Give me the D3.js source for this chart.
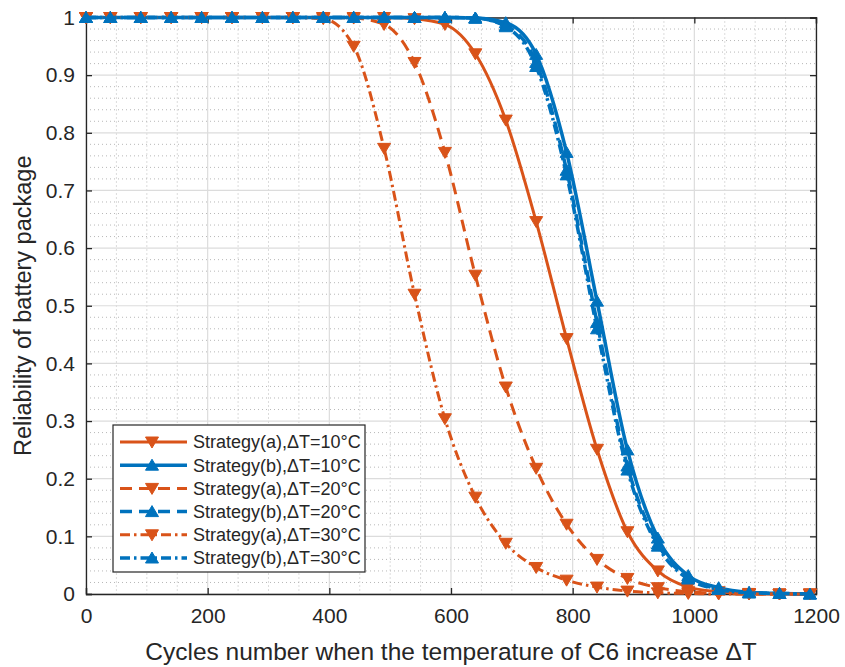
<!DOCTYPE html>
<html>
<head>
<meta charset="utf-8">
<script src="https://cdn.jsdelivr.net/npm/d3@7"></script>
<style>
  body { margin: 0; background: #fff; }
  svg { display: block; font-family: "Liberation Sans", Arial, sans-serif; }
</style>
</head>
<body>
<svg id="chart"></svg>
<script>
// data (marker positions)
const cycles = [0, 40, 90, 140, 190, 240, 290, 340, 390, 440, 490, 540, 590, 640, 690, 740, 790, 840, 890, 940, 990, 1040, 1090, 1140, 1190];

const relA10 = [1, 1, 1, 1, 1, 1, 1, 1, 1, 1, 1, 0.998, 0.988, 0.937, 0.822, 0.646, 0.443, 0.251, 0.108, 0.040, 0.012, 0.004, 0.001, 0, 0];
const relB10 = [1, 1, 1, 1, 1, 1, 1, 1, 1, 1, 1, 1, 1, 0.999, 0.991, 0.936, 0.766, 0.508, 0.250, 0.097, 0.032, 0.011, 0.003, 0.001, 0];
const relA20 = [1, 1, 1, 1, 1, 1, 1, 1, 1, 0.999, 0.988, 0.922, 0.766, 0.553, 0.359, 0.218, 0.121, 0.060, 0.027, 0.011, 0.004, 0.001, 0, 0, 0];
const relB20 = [1, 1, 1, 1, 1, 1, 1, 1, 1, 1, 1, 1, 1, 0.999, 0.986, 0.922, 0.735, 0.471, 0.222, 0.087, 0.028, 0.009, 0.002, 0.001, 0];
const relA30 = [1, 1, 1, 1, 1, 1, 1, 1, 0.998, 0.950, 0.773, 0.520, 0.304, 0.168, 0.088, 0.046, 0.024, 0.012, 0.005, 0.002, 0.001, 0, 0, 0, 0];
const relB30 = [1, 1, 1, 1, 1, 1, 1, 1, 1, 1, 1, 1, 1, 0.999, 0.984, 0.915, 0.727, 0.460, 0.215, 0.083, 0.026, 0.008, 0.002, 0.001, 0];

const seriesNames = [
  "Strategy(a),\u0394T=10\u00B0C",
  "Strategy(b),\u0394T=10\u00B0C",
  "Strategy(a),\u0394T=20\u00B0C",
  "Strategy(b),\u0394T=20\u00B0C",
  "Strategy(a),\u0394T=30\u00B0C",
  "Strategy(b),\u0394T=30\u00B0C"
];
const seriesValues = [relA10, relB10, relA20, relB20, relA30, relB30];

const xTicks = [0, 200, 400, 600, 800, 1000, 1200];
const yTicks = [0, 0.1, 0.2, 0.3, 0.4, 0.5, 0.6, 0.7, 0.8, 0.9, 1];
const xTitle = "Cycles number when the temperature of C6 increase \u0394T";
const yTitle = "Reliability of battery package";

// styles
const orange = "#D95319";
const blue = "#0072BD";
const styles = [
  { color: orange, dash: null, width: 3, marker: "down" },
  { color: blue, dash: null, width: 3.5, marker: "up" },
  { color: orange, dash: "12,7", width: 3, marker: "down" },
  { color: blue, dash: "12,7", width: 3.5, marker: "up" },
  { color: orange, dash: "10,4,2.5,4", width: 3, marker: "down" },
  { color: blue, dash: "10,4,2.5,4", width: 3.5, marker: "up" }
];

const W = 845, H = 667;
const pLeft = 86, pRight = 816, pTop = 17.5, pBottom = 594;

const svg = d3.select("#chart").attr("width", W).attr("height", H);

const x = d3.scaleLinear().domain([0, 1200]).range([pLeft, pRight]);
const y = d3.scaleLinear().domain([0, 1]).range([pBottom, pTop]);

// minor grid (dotted)
const minorX = d3.range(0, 1201, 50).filter(v => v % 200 !== 0);
const minorY = d3.range(0, 51).map(i => i / 50).filter((v, i) => i % 5 !== 0);

const grid = svg.append("g");
grid.selectAll(".mx").data(minorX).enter().append("line")
  .attr("x1", d => x(d)).attr("x2", d => x(d))
  .attr("y1", pTop).attr("y2", pBottom)
  .attr("stroke", "#b8b8b8").attr("stroke-width", 1)
  .attr("stroke-dasharray", "1,3");
grid.selectAll(".my").data(minorY).enter().append("line")
  .attr("x1", pLeft).attr("x2", pRight)
  .attr("y1", d => y(d)).attr("y2", d => y(d))
  .attr("stroke", "#b8b8b8").attr("stroke-width", 1)
  .attr("stroke-dasharray", "1,3");

// major grid
grid.selectAll(".gx").data(xTicks).enter().append("line")
  .attr("x1", d => x(d)).attr("x2", d => x(d))
  .attr("y1", pTop).attr("y2", pBottom)
  .attr("stroke", "#dcdcdc").attr("stroke-width", 1.2);
grid.selectAll(".gy").data(yTicks).enter().append("line")
  .attr("x1", pLeft).attr("x2", pRight)
  .attr("y1", d => y(d)).attr("y2", d => y(d))
  .attr("stroke", "#dcdcdc").attr("stroke-width", 1.2);

// axes
const axisColor = "#262626";
const xAxis = svg.append("g")
  .attr("transform", `translate(0,${pBottom})`)
  .call(d3.axisBottom(x).tickValues(xTicks).tickSize(-6).tickPadding(14).tickFormat(d3.format("d")));
const yAxis = svg.append("g")
  .attr("transform", `translate(${pLeft},0)`)
  .call(d3.axisLeft(y).tickValues(yTicks).tickSize(-6).tickPadding(11).tickFormat(d => d === 0 || d === 1 ? d3.format("d")(d) : d3.format(".1f")(d)));
const xTop = svg.append("g")
  .attr("transform", `translate(0,${pTop})`)
  .call(d3.axisTop(x).tickValues(xTicks).tickSize(-6).tickFormat(""));
const yRight = svg.append("g")
  .attr("transform", `translate(${pRight},0)`)
  .call(d3.axisRight(y).tickValues(yTicks).tickSize(-6).tickFormat(""));

[xAxis, yAxis, xTop, yRight].forEach(a => {
  a.select(".domain").attr("stroke", axisColor).attr("stroke-width", 1.3);
  a.selectAll(".tick line").attr("stroke", axisColor).attr("stroke-width", 1.3);
  a.selectAll(".tick text").attr("fill", axisColor).attr("font-size", 21)
    .attr("font-family", "'Liberation Sans', Arial, sans-serif");
});
xAxis.selectAll(".tick text").attr("dy", "0.71em");

// lines and markers
const line = d3.line()
  .x(d => x(d[0]))
  .y(d => y(d[1]))
  .curve(d3.curveMonotoneX);

const triDown = "M-6.5,-5L6.5,-5L0,6Z";
const triUp = "M-6.5,5L6.5,5L0,-6Z";

const plot = svg.append("g");
seriesValues.forEach((vals, i) => {
  const st = styles[i];
  const pts = cycles.map((c, j) => [c, vals[j]]);
  plot.append("path")
    .datum(pts)
    .attr("d", line)
    .attr("fill", "none")
    .attr("stroke", st.color)
    .attr("stroke-width", st.width)
    .attr("stroke-dasharray", st.dash)
    .attr("stroke-linejoin", "round");
  plot.append("g").selectAll("path")
    .data(pts)
    .enter()
    .append("path")
    .attr("d", st.marker === "down" ? triDown : triUp)
    .attr("transform", d => `translate(${x(d[0])},${y(d[1])})`)
    .attr("fill", st.color)
    .attr("stroke", st.color)
    .attr("stroke-width", 1);
});

// axis titles
svg.append("text")
  .attr("x", (pLeft + pRight) / 2)
  .attr("y", 660)
  .attr("text-anchor", "middle")
  .attr("font-size", 24.5)
  .attr("fill", axisColor)
  .text(xTitle);

svg.append("text")
  .attr("transform", `translate(31,${(pTop + pBottom) / 2}) rotate(-90)`)
  .attr("text-anchor", "middle")
  .attr("font-size", 23.5)
  .attr("fill", axisColor)
  .text(yTitle);

// legend
const lgX = 113, lgY = 425, lgW = 252, lgH = 147, rowH = 23.2;
const legend = svg.append("g");
legend.append("rect")
  .attr("x", lgX).attr("y", lgY)
  .attr("width", lgW).attr("height", lgH)
  .attr("fill", "#fff")
  .attr("stroke", "#262626").attr("stroke-width", 1.2);

seriesNames.forEach((name, i) => {
  const st = styles[i];
  const ry = lgY + 17 + i * rowH;
  const row = legend.append("g");
  row.append("line")
    .attr("x1", lgX + 7).attr("x2", lgX + 74)
    .attr("y1", ry).attr("y2", ry)
    .attr("stroke", st.color)
    .attr("stroke-width", st.width)
    .attr("stroke-dasharray", st.dash);
  row.append("path")
    .attr("d", st.marker === "down" ? triDown : triUp)
    .attr("transform", `translate(${lgX + 39},${ry})`)
    .attr("fill", st.color)
    .attr("stroke", st.color);
  row.append("text")
    .attr("x", lgX + 80)
    .attr("y", ry)
    .attr("dy", "0.36em")
    .attr("font-size", 18)
    .attr("fill", axisColor)
    .text(name);
});
</script>
</body>
</html>
